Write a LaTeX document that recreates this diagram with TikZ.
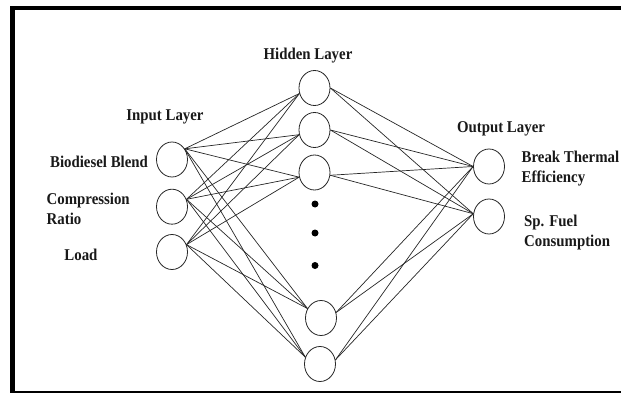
\documentclass[tikz,border=0pt]{standalone}
\usepackage{fontspec}
\setmainfont{Liberation Serif}[FakeStretch=0.9]
\usetikzlibrary{shapes.geometric}
\begin{document}
\begin{tikzpicture}[x=1pt,y=-1pt,
  neuron/.style={draw=black!85, line width=0.8pt, ellipse, minimum width=31pt, minimum height=35pt, inner sep=0pt},
  conn/.style={draw=black!85, line width=0.7pt},
  lbl/.style={font=\fontsize{16.5}{20}\selectfont\bfseries, inner sep=0pt, text=black!90},
  dot/.style={fill=black, circle, minimum size=7pt, inner sep=0pt}]
\useasboundingbox (0,0) rectangle (621,393);
\clip (0,0) rectangle (621,393);
% frame
\fill[black] (10,5.7) rectangle (621,10);
\fill[black] (10,5.7) rectangle (15,393);
\fill[black] (10,391) rectangle (621,393.5);
% nodes
\node[neuron] (i1) at (172,159.5) {};
\node[neuron] (i2) at (172,206.7) {};
\node[neuron] (i3) at (172,252) {};
\node[neuron] (h1) at (314.5,88) {};
\node[neuron] (h2) at (314.5,130) {};
\node[neuron] (h3) at (314.5,172.5) {};
\node[neuron] (h4) at (321,318) {};
\node[neuron] (h5) at (320,364) {};
\node[neuron] (o1) at (489,166.5) {};
\node[neuron] (o2) at (489,216.5) {};
\node[dot] (d1) at (315,204) {};
\node[dot] (d2) at (315,233) {};
\node[dot] (d3) at (315,265.5) {};
% connections
\foreach \i/\a in {i1/40,i2/27,i3/27}
  \foreach \h/\b in {h1/200,h2/197,h3/197,h4/145,h5/155}
    \draw[conn] (\i.\a) -- (\h.\b);
\foreach \h/\b in {h1/0,h2/0,h3/-10,h4/20,h5/15}
  \foreach \o/\c in {o1/180,o2/170}
    \draw[conn] (\h.\b) -- (\o.\c);
% labels
\node[lbl] (lh) at (308,56) {Hidden Layer};
\node[lbl] (li) at (165,117) {Input Layer};
\node[lbl] (lo) at (501,129) {Output Layer};
\node[lbl] (l1) at (99,162) {Biodiesel Blend};
\node[lbl, align=left, anchor=west] (l2) at (46.5,209) {Compression\\Ratio};
\node[lbl] (l3) at (81,255) {Load};
\node[lbl, align=left, anchor=west] (l4) at (521.5,169) {Break Thermal\\Efficiency};
\node[lbl, align=left, anchor=west] (l5) at (524,233) {Sp. Fuel\\Consumption};
\end{tikzpicture}
\end{document}
